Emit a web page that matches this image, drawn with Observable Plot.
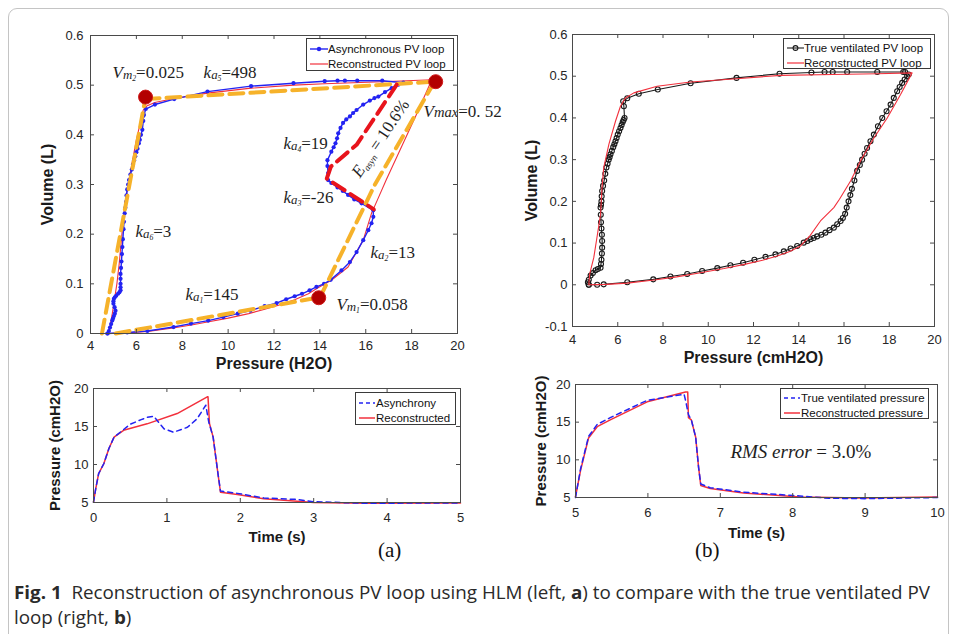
<!DOCTYPE html>
<html><head><meta charset="utf-8">
<script src="https://cdn.jsdelivr.net/npm/d3@7"></script>
<script src="https://cdn.jsdelivr.net/npm/@observablehq/plot@0.6"></script>
<style>
html,body{margin:0;padding:0;background:#fff}
body{width:958px;height:634px;overflow:hidden;position:relative;font-family:"Liberation Sans",Arial,sans-serif}
.border{position:absolute;left:8px;top:8px;width:941px;height:660px;border:1px solid #c4c4c4;border-radius:9px;box-sizing:border-box}
.panel{position:absolute}
.legend{position:absolute;background:#fff;border:1px solid #3a3a3a;box-sizing:border-box;font-size:11.5px;color:#111}
.legend .row{position:absolute;left:0;white-space:nowrap;line-height:14px}
.legend svg{position:absolute}
.sub{position:absolute;font-family:"Liberation Serif","Times New Roman",serif;font-size:21px;color:#111}
#caption{position:absolute;left:14px;top:580px;font-family:"Open Sans",sans-serif;font-size:17.5px;color:#2a2a2a;line-height:25px;white-space:nowrap;transform-origin:0 0}
#caption b{font-weight:700}
</style></head>
<body>
<div class="border"></div>
<div id="pa" class="panel" style="left:0;top:0"></div>
<div id="pb" class="panel" style="left:490px;top:0"></div>
<div id="pc" class="panel" style="left:0;top:375px"></div>
<div id="pd" class="panel" style="left:490px;top:372px"></div>
<div class="sub" style="left:378px;top:538px">(a)</div>
<div class="sub" style="left:695px;top:538px">(b)</div>
<div id="caption"><span id="cap1"><b>Fig. 1</b>&nbsp; Reconstruction of asynchronous PV loop using HLM (left, <b>a</b>) to compare with the true ventilated PV</span><br><span>loop (right, <b>b</b>)</span></div>
<script>
// ---------- tick values ----------
const pvPressureTicks = [4, 6, 8, 10, 12, 14, 16, 18, 20];
const volTicksA = [0, 0.1, 0.2, 0.3, 0.4, 0.5, 0.6];
const volTicksB = [-0.1, 0, 0.1, 0.2, 0.3, 0.4, 0.5, 0.6];
const timeTicksA = [0, 1, 2, 3, 4, 5];
const timeTicksB = [5, 6, 7, 8, 9, 10];
const presTicks = [5, 10, 15, 20];

// ---------- labels ----------
const legendA = ["Asynchronous PV loop", "Reconstructed PV loop"];
const legendB = ["True ventilated PV loop", "Reconstructed PV loop"];
const legendC = ["Asynchrony", "Reconstructed"];
const legendD = ["True ventilated pressure", "Reconstructed pressure"];

// ---------- (a) asynchronous PV loop (blue with markers) ----------
const asyncP = [4.74,5.6,6.48,7.62,8.38,9.13,9.79,10.42,10.97,11.59,12.11,12.53,12.9,13.22,13.55,13.85,14.18,14.47,14.94,15.31,15.6,15.89,16.11,16.25,16.33,16.33,
  15.82,15.5,15.23,15.0,14.77,14.5,14.36,14.36,14.33,14.33,14.5,14.6,14.68,14.75,14.8,14.9,15.01,15.15,15.31,15.45,15.6,15.89,16.18,16.38,16.55,16.84,17.13,17.42,17.64,
  16.72,15.63,15.09,14.77,14.21,12.85,11.0,9.1,7.65,6.81,6.41,6.33,
  6.28,6.3,6.26,6.2,6.15,6.11,6.05,6.0,5.95,5.9,5.85,5.8,5.74,5.68,5.64,5.6,5.57,5.55,5.52,5.49,5.46,5.44,5.41,5.39,5.37,5.35,5.33,5.31,5.31,5.31,5.31,5.31,5.26,5.2,5.12,5.06,5.02,5.0,5.0,5.05,5.09,5.06,5.02,4.98,4.95,4.9,4.85,4.8,4.74];
const asyncV = [0,0.002,0.005,0.013,0.02,0.026,0.033,0.04,0.046,0.055,0.061,0.069,0.075,0.08,0.087,0.094,0.1,0.108,0.127,0.144,0.164,0.188,0.208,0.222,0.235,0.248,
  0.262,0.27,0.279,0.287,0.294,0.303,0.309,0.323,0.337,0.349,0.366,0.375,0.383,0.393,0.403,0.414,0.424,0.431,0.437,0.444,0.45,0.461,0.469,0.474,0.477,0.486,0.494,0.501,0.505,
  0.509,0.509,0.509,0.509,0.508,0.504,0.498,0.487,0.472,0.461,0.452,0.44,
  0.437,0.428,0.41,0.4,0.39,0.383,0.372,0.365,0.357,0.349,0.34,0.33,0.32,0.309,0.3,0.29,0.278,0.265,0.253,0.242,0.225,0.21,0.19,0.174,0.16,0.145,0.132,0.12,0.11,0.1,0.093,0.087,0.083,0.08,0.076,0.073,0.07,0.065,0.06,0.053,0.046,0.04,0.035,0.03,0.026,0.019,0.012,0.005,0];
// (a) reconstructed PV loop (red)
const reconAP = [4.75,5.5,6.5,7.6,8.4,9.1,10,10.9,11.6,12.2,12.9,13.5,13.92,14.5,15.23,15.89,16.25,16.5,16.9,17.5,18.17,18.88,
  16.7,14.2,12.85,11.0,9.1,7.65,6.8,6.45,6.3,6.2,6.0,5.8,5.6,5.45,5.35,5.25,5.15,5.05,4.95,4.85,4.75];
const reconAV = [0,0.001,0.004,0.011,0.017,0.023,0.031,0.04,0.049,0.057,0.068,0.08,0.092,0.107,0.134,0.188,0.242,0.268,0.31,0.37,0.437,0.511,
  0.507,0.503,0.5,0.494,0.484,0.473,0.465,0.458,0.45,0.43,0.39,0.34,0.29,0.24,0.19,0.14,0.1,0.07,0.04,0.015,0];
// (a) HLM segments (orange dashed) and asynchrony segment (red dashed)
const hlmSegId = [1,1, 2,2, 3,3,3, 4,4];
const hlmP = [4.5,6.4, 6.4,19.0, 19.0,16.4,14.0, 5.1,13.9];
const hlmV = [0,0.475, 0.472,0.507, 0.507,0.3,0.072, 0,0.072];
const asynSegP = [17.35,15.6,14.48,14.3,16.35];
const asynSegV = [0.501,0.38,0.336,0.312,0.25];
// (a) break points
const breakP = [6.4, 19.05, 13.95];
const breakV = [0.476, 0.507, 0.072];
// (a) annotations (I: italic, N: upright, s: small, t: tiny sub, M: medium italic, u: small sub)
const annText = ["I:V|s:m|t:2|N:=0.025", "I:k|s:a|t:5|N:=498", "I:V|M:max|N:=0. 52", "I:k|s:a|t:4|N:=19", "I:k|s:a|t:3|N:=-26",
  "I:k|s:a|t:6|N:=3", "I:k|s:a|t:2|N:=13", "I:k|s:a|t:1|N:=145", "I:V|s:m|t:1|N:=0.058"];
const annP = [4.96, 8.93, 18.52, 12.41, 12.41, 5.96, 16.21, 8.14, 14.72];
const annV = [0.515, 0.515, 0.435, 0.372, 0.262, 0.195, 0.153, 0.068, 0.048];
const errText = ["I:E|u:asyn|N: = 10.6%"];
const errP = [16.64], errV = [0.393];

// ---------- (b) true ventilated PV loop (black markers) ----------
const trueP = [4.72,5.09,5.38,6.42,7.57,8.33,9.07,9.73,10.4,10.98,11.54,12.04,12.53,12.97,13.34,13.64,13.93,14.22,14.38,14.52,14.66,14.81,15.0,15.18,15.36,15.55,15.7,15.85,15.95,16.05,16.12,16.2,16.28,16.35,16.46,16.58,16.7,16.8,16.91,17.02,17.17,17.32,17.5,17.69,17.88,18.06,18.2,18.35,18.46,18.57,18.68,18.79,18.86,18.7,18.62,
  17.47,16.14,15.5,15.14,14.56,13.15,11.25,9.22,7.77,6.93,6.42,6.24,
  6.27,6.3,6.26,6.22,6.17,6.12,6.06,6.0,5.95,5.9,5.85,5.8,5.74,5.68,5.64,5.6,5.55,5.5,5.45,5.4,5.35,5.31,5.29,5.28,5.26,5.24,5.25,5.26,5.28,5.3,5.31,5.31,5.3,5.28,5.26,5.24,5.12,5.02,4.9,4.8,4.72,4.68,4.72];
const trueV = [0,0,0.001,0.006,0.013,0.02,0.026,0.033,0.04,0.047,0.053,0.06,0.067,0.073,0.08,0.087,0.093,0.101,0.105,0.109,0.112,0.116,0.12,0.125,0.131,0.137,0.145,0.153,0.16,0.17,0.185,0.2,0.215,0.23,0.25,0.273,0.287,0.3,0.314,0.328,0.344,0.36,0.38,0.4,0.416,0.432,0.448,0.464,0.474,0.484,0.492,0.5,0.504,0.51,0.51,
  0.51,0.51,0.51,0.51,0.509,0.506,0.496,0.483,0.468,0.458,0.447,0.44,
  0.428,0.4,0.395,0.39,0.383,0.376,0.368,0.36,0.352,0.344,0.337,0.33,0.321,0.313,0.306,0.3,0.29,0.281,0.266,0.25,0.237,0.225,0.212,0.2,0.192,0.185,0.168,0.15,0.135,0.12,0.105,0.089,0.075,0.06,0.05,0.041,0.038,0.035,0.028,0.022,0.012,0.006,0];
const reconBP = [4.72,5.5,6.42,7.7,8.6,9.66,10.7,11.6,12.4,13.05,13.6,14.08,14.5,14.96,15.55,15.8,16.29,16.73,17.3,17.91,18.5,19.01,
  17.47,15.5,13.19,11.25,9.22,7.74,6.71,6.34,6.12,5.9,5.61,5.38,5.3,5.24,5.1,4.94,4.76,4.72];
const reconBV = [0,0.001,0.004,0.012,0.019,0.029,0.039,0.049,0.059,0.069,0.08,0.093,0.118,0.153,0.185,0.205,0.249,0.297,0.35,0.4,0.456,0.508,
  0.506,0.504,0.502,0.494,0.486,0.476,0.46,0.448,0.428,0.392,0.337,0.281,0.23,0.169,0.12,0.065,0.026,0];

// ---------- (a) bottom: pressure vs time ----------
const asyT = [0,0.03,0.07,0.14,0.21,0.28,0.41,0.5,0.65,0.73,0.82,0.96,1.09,1.28,1.41,1.53,1.57,1.63,1.69,1.73,1.96,2.32,2.78,3.0,3.7,5.0];
const asyPr = [5.04,6.8,8.8,10.1,12.1,13.6,14.6,15.3,15.9,16.2,16.35,14.7,14.25,14.9,16.0,17.8,15.6,13.6,9.2,6.5,6.2,5.6,5.4,5.1,4.9,4.95];
const recAT = [0,0.03,0.07,0.14,0.21,0.28,0.41,0.73,1.14,1.55,1.56,1.58,1.63,1.69,1.73,1.96,2.32,3.0,3.7,5.0];
const recAPr = [5.04,6.8,8.8,10.1,12.1,13.6,14.5,15.35,16.7,18.9,18.9,15.4,13.6,9.2,6.35,6.05,5.5,5.0,4.9,4.95];
// ---------- (b) bottom ----------
const truT = [5.0,5.07,5.18,5.3,5.48,5.99,6.5,6.52,6.56,6.6,6.66,6.7,6.73,6.86,7.32,7.8,8.1,8.5,9.0,10.0];
const truPr = [5.0,8.8,13.1,14.7,15.6,17.9,18.7,17.9,16.0,15.3,13.0,9.0,6.8,6.3,5.7,5.4,5.2,4.9,4.85,5.0];
const recBT = [5.0,5.07,5.18,5.3,5.48,5.99,6.52,6.55,6.56,6.6,6.66,6.7,6.73,6.86,7.32,8.1,8.94,10.0];
const recBPr = [5.1,8.6,12.9,14.4,15.3,17.7,19.0,19.0,15.6,15.3,13.0,9.0,6.6,6.2,5.6,5.07,4.95,5.05];
const rmsText = ["I:RMS error|N: = 3.0%"];
const rmsT = [7.14], rmsP = [10.3];

// ---------- helpers ----------
const zip = (xs, ys, extra) => xs.map((x, i) => ({x, y: ys[i], ...(extra ? {z: extra[i]} : {})}));
const BLUE = "#2323f2", RED = "#f2303c", ORANGE = "#f6b22a", DARKRED = "#b30000", AXC = "#4a4a4a";
const SERIF = "Liberation Serif, Times New Roman, serif";

function panel({width, height, mt, mr, mb, ml, xDomain, yDomain, xTicks, yTicks, xLabel, yLabel, xLabelDy, yLabelDx, labelSize, padX, padY, marks}) {
  const fw = width - ml - mr, fh = height - mt - mb, tk = 4;
  return Plot.plot({
    width, height, marginTop: mt, marginRight: mr, marginBottom: mb, marginLeft: ml,
    x: {domain: xDomain}, y: {domain: yDomain},
    style: {background: "transparent", fontFamily: "Liberation Sans, Arial, sans-serif", fontSize: "13px", color: "#262626", overflow: "visible"},
    marks: [
      ...marks,
      Plot.frame({stroke: AXC, strokeWidth: 1}),
      Plot.tickX(xTicks, {x: d => d, insetTop: fh - tk, stroke: AXC}),
      Plot.tickX(xTicks, {x: d => d, insetBottom: fh - tk, stroke: AXC}),
      Plot.tickY(yTicks, {y: d => d, insetRight: fw - tk, stroke: AXC}),
      Plot.tickY(yTicks, {y: d => d, insetLeft: fw - tk, stroke: AXC}),
      Plot.axisX({ticks: xTicks, tickSize: 0, tickPadding: padX, label: null, tickFormat: d => String(d)}),
      Plot.axisY({ticks: yTicks, tickSize: 0, tickPadding: padY, label: null, tickFormat: d => String(d)}),
      Plot.text([xLabel], {text: d => d, frameAnchor: "bottom", textAnchor: "middle", dy: xLabelDy, lineAnchor: "middle", fontWeight: "bold", fontSize: labelSize, fill: "#1a1a1a"}),
      Plot.text([yLabel], {text: d => d, frameAnchor: "left", textAnchor: "middle", dx: yLabelDx, rotate: -90, lineAnchor: "middle", fontWeight: "bold", fontSize: labelSize, fill: "#1a1a1a"})
    ]
  });
}

const STY = {I: {f: 1, it: true, sh: 0}, N: {f: 1, it: false, sh: 0}, s: {f: 0.76, it: true, sh: 1},
  t: {f: 0.45, it: true, sh: 3}, M: {f: 0.86, it: true, sh: 0}, u: {f: 0.55, it: true, sh: 3}};
function richify(svg, base) {
  d3.select(svg).selectAll("text").filter(function() { return this.textContent.includes("|"); }).each(function() {
    const el = d3.select(this);
    const src = this.textContent;
    el.text(null);
    let shift = 0;
    for (const tok of src.split("|")) {
      const k = tok[0], s = tok.slice(2), st = STY[k];
      el.append("tspan").text(s).attr("font-size", base * st.f).attr("font-style", st.it ? "italic" : "normal").attr("dy", st.sh - shift);
      shift = st.sh;
    }
  });
}

function legend({left, top, width, height, rows, labels, items}) {
  const box = document.createElement("div");
  box.className = "legend";
  Object.assign(box.style, {left: left + "px", top: top + "px", width: width + "px", height: height + "px"});
  labels.forEach((lab, i) => {
    const it = items[i];
    const yc = rows[i];
    const s = d3.create("svg").attr("width", it.sw).attr("height", 8)
      .style("left", it.sx + "px").style("top", (yc - 4) + "px");
    s.append("line").attr("x1", 0).attr("x2", it.sw).attr("y1", 4).attr("y2", 4)
      .attr("stroke", it.color).attr("stroke-width", it.width).attr("stroke-dasharray", it.dash || null);
    if (it.marker === "dot") s.append("circle").attr("cx", it.sw / 2).attr("cy", 4).attr("r", 2.2).attr("fill", it.color);
    if (it.marker === "ring") s.append("circle").attr("cx", it.sw / 2).attr("cy", 4).attr("r", 2.4).attr("fill", "none").attr("stroke", it.color).attr("stroke-width", 1.1);
    box.appendChild(s.node());
    const r = document.createElement("div");
    r.className = "row";
    r.textContent = lab;
    r.style.left = it.tx + "px";
    r.style.top = (yc - 7) + "px";
    box.appendChild(r);
  });
  document.body.appendChild(box);
}

// ---------- panel (a) top ----------
const asyncData = zip(asyncP, asyncV), reconAData = zip(reconAP, reconAV);
const hlmData = zip(hlmP, hlmV, hlmSegId), asynSeg = zip(asynSegP, asynSegV), breakData = zip(breakP, breakV);
const annData = annText.map((t, i) => ({t, x: annP[i], y: annV[i]}));
const errData = errText.map((t, i) => ({t, x: errP[i], y: errV[i]}));
const A = panel({width: 480, height: 380, mt: 35, mr: 23, mb: 47, ml: 90, xDomain: [4, 20], yDomain: [0, 0.6],
  xTicks: pvPressureTicks, yTicks: volTicksA, xLabel: "Pressure (H2O)", yLabel: "Volume (L)", xLabelDy: 30, yLabelDx: -43, labelSize: 16, padX: 7, padY: 7,
  marks: [
    Plot.line(reconAData, {x: "x", y: "y", stroke: RED, strokeWidth: 1.1}),
    Plot.line(asyncData, {x: "x", y: "y", stroke: BLUE, strokeWidth: 1.4}),
    Plot.dot(asyncData, {x: "x", y: "y", r: 2.1, fill: BLUE}),
    Plot.line(hlmData, {x: "x", y: "y", z: "z", stroke: ORANGE, strokeWidth: 4, strokeDasharray: "14,7"}),
    Plot.line(asynSeg, {x: "x", y: "y", stroke: "#e8141c", strokeWidth: 4, strokeDasharray: "14,7"}),
    Plot.dot(breakData, {x: "x", y: "y", r: 7, fill: DARKRED, stroke: "#d01a1a", strokeWidth: 1}),
    Plot.text(annData, {x: "x", y: "y", text: "t", textAnchor: "start", lineAnchor: "bottom", fontFamily: SERIF, fontSize: 17, fill: "#1e1e1e"}),
    Plot.text(errData, {x: "x", y: "y", text: "t", textAnchor: "middle", lineAnchor: "middle", rotate: -56, fontFamily: SERIF, fontSize: 17, fill: "#1e1e1e"})
  ]});
richify(A, 17);
document.getElementById("pa").appendChild(A);

// ---------- panel (b) top ----------
const trueData = zip(trueP, trueV), reconBData = zip(reconBP, reconBV);
const B = panel({width: 460, height: 375, mt: 34, mr: 16, mb: 49, ml: 82, xDomain: [4, 20], yDomain: [-0.1, 0.6],
  xTicks: pvPressureTicks, yTicks: volTicksB, xLabel: "Pressure (cmH2O)", yLabel: "Volume (L)", xLabelDy: 31, yLabelDx: -41, labelSize: 16, padX: 8, padY: 5,
  marks: [
    Plot.line(trueData, {x: "x", y: "y", stroke: "#1a1a1a", strokeWidth: 1.1}),
    Plot.dot(trueData, {x: "x", y: "y", r: 2.5, fill: "none", stroke: "#1a1a1a", strokeWidth: 1.1}),
    Plot.line(reconBData, {x: "x", y: "y", stroke: RED, strokeWidth: 1.1})
  ]});
document.getElementById("pb").appendChild(B);

// ---------- panel (a) bottom ----------
const C = panel({width: 480, height: 175, mt: 13, mr: 20, mb: 48, ml: 93, xDomain: [0, 5], yDomain: [5, 20],
  xTicks: timeTicksA, yTicks: presTicks, xLabel: "Time (s)", yLabel: "Pressure (cmH2O)", xLabelDy: 35, yLabelDx: -38, labelSize: 15, padX: 10, padY: 5,
  marks: [
    Plot.line(zip(recAT, recAPr), {x: "x", y: "y", stroke: RED, strokeWidth: 1.5}),
    Plot.line(zip(asyT, asyPr), {x: "x", y: "y", stroke: BLUE, strokeWidth: 1.5, strokeDasharray: "5,4"})
  ]});
document.getElementById("pc").appendChild(C);

// ---------- panel (b) bottom ----------
const rmsData = rmsText.map((t, i) => ({t, x: rmsT[i], y: rmsP[i]}));
const D = panel({width: 460, height: 178, mt: 12, mr: 13, mb: 53, ml: 85, xDomain: [5, 10], yDomain: [5, 20],
  xTicks: timeTicksB, yTicks: presTicks, xLabel: "Time (s)", yLabel: "Pressure (cmH2O)", xLabelDy: 36, yLabelDx: -34, labelSize: 15, padX: 10, padY: 5,
  marks: [
    Plot.line(zip(recBT, recBPr), {x: "x", y: "y", stroke: RED, strokeWidth: 1.5}),
    Plot.line(zip(truT, truPr), {x: "x", y: "y", stroke: BLUE, strokeWidth: 1.5, strokeDasharray: "5,4"}),
    Plot.text(rmsData, {x: "x", y: "y", text: "t", textAnchor: "start", lineAnchor: "bottom", fontFamily: SERIF, fontSize: 19, fill: "#1e1e1e"})
  ]});
richify(D, 19);
document.getElementById("pd").appendChild(D);

// ---------- legends ----------
legend({left: 306, top: 38, width: 148, height: 33, rows: [10, 25], labels: legendA,
  items: [{sx: 3, sw: 18, tx: 21, color: BLUE, width: 1.4, marker: "dot"}, {sx: 3, sw: 18, tx: 21, color: RED, width: 1.2}]});
legend({left: 783, top: 38, width: 148, height: 31, rows: [9, 24], labels: legendB,
  items: [{sx: 3, sw: 17, tx: 20, color: "#1a1a1a", width: 1.1, marker: "ring"}, {sx: 3, sw: 17, tx: 20, color: RED, width: 1.2}]});
legend({left: 355, top: 392, width: 101, height: 33, rows: [10, 25], labels: legendC,
  items: [{sx: 3, sw: 16, tx: 20, color: BLUE, width: 1.5, dash: "4,3"}, {sx: 3, sw: 16, tx: 20, color: RED, width: 1.5}]});
legend({left: 780, top: 388, width: 149, height: 31, rows: [9, 24], labels: legendD,
  items: [{sx: 3, sw: 16, tx: 20, color: BLUE, width: 1.5, dash: "4,3"}, {sx: 3, sw: 16, tx: 20, color: RED, width: 1.5}]});

// ---------- caption fitting ----------
const cap1 = document.getElementById("cap1");
const w = cap1.getBoundingClientRect().width;
document.getElementById("caption").style.transform = `scaleX(${916 / w})`;
</script>
</body></html>
